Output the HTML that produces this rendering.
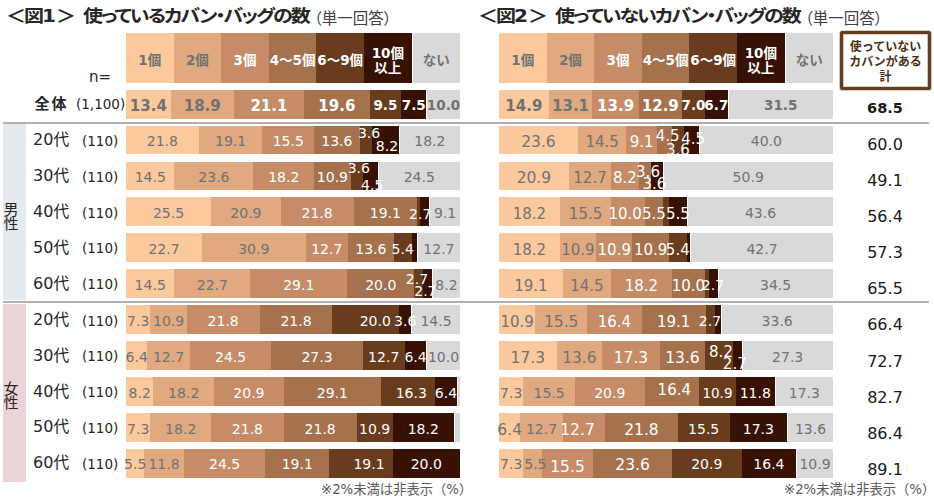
<!DOCTYPE html>
<html lang="ja"><head><meta charset="utf-8">
<title>使っている／使っていないカバン・バッグの数</title>
<style>
html,body{margin:0;padding:0;background:#fff;}
body{width:934px;height:503px;position:relative;overflow:hidden;font-family:"DejaVu Sans","Noto Sans CJK JP",sans-serif;}
.seg{position:absolute;}
.hl{position:absolute;display:flex;align-items:center;justify-content:center;font-family:"DejaVu Sans","Noto Sans CJK JP",sans-serif;font-weight:bold;font-size:13.5px;line-height:16px;text-align:center;white-space:nowrap;}
.hl span{display:block;margin-top:4px;}
.hl.two span{margin-top:6px;line-height:15.5px;}
.v,.vb{position:absolute;transform:translate(-50%,-50%);white-space:nowrap;line-height:1;}
.vb{font-weight:bold;}
.t{position:absolute;white-space:nowrap;color:#262626;}
.title{font-family:"Noto Sans CJK JP",sans-serif;font-weight:bold;font-size:20px;line-height:24px;color:#262626;font-feature-settings:"palt";letter-spacing:-2px;transform:scaleY(0.88);transform-origin:50% 60%;}
.title.sm{transform:none;}
.title .d{font-family:"DejaVu Sans",sans-serif;letter-spacing:0;}
.title small{font-weight:normal;font-size:15.5px;color:#404040;letter-spacing:0;}
.rl{position:absolute;font-size:16px;line-height:16px;color:#262626;white-space:nowrap;}
.n{position:absolute;font-size:13.5px;line-height:14px;color:#262626;white-space:nowrap;}
.tot{position:absolute;transform:translate(-50%,-50%);font-size:16px;line-height:1;color:#1a1a1a;}
.hline{position:absolute;height:2px;background:#B0B0B0;}
.side{position:absolute;left:3px;width:16px;text-align:center;font-family:"Noto Sans CJK JP",sans-serif;font-size:15px;line-height:13.5px;color:#262626;}
.foot{position:absolute;font-size:13.3px;line-height:14px;color:#595959;white-space:nowrap;font-family:"DejaVu Sans","Noto Sans CJK JP",sans-serif;}
.box{position:absolute;left:840px;top:30.5px;width:85px;height:53px;border:3px solid #603D1C;border-radius:2px;box-shadow:0 0 0 0.6px rgba(110,70,35,0.5), inset 0 0 0 0.6px rgba(110,70,35,0.5);}
.boxt{position:absolute;left:843px;top:38.3px;width:85px;text-align:center;font-family:"Noto Sans CJK JP",sans-serif;font-weight:bold;font-size:12px;line-height:15px;color:#4A2E14;}
</style></head><body>
<div class="t title" style="left:6px;top:3px">＜図<span class="d">1</span>＞</div>
<div class="t title" style="left:83px;top:3px">使っているカバン・バッグの数</div>
<div class="t title sm" style="left:314px;top:3.5px"><small>（単一回答）</small></div>
<div class="t title" style="left:478px;top:3px">＜図<span class="d">2</span>＞</div>
<div class="t title" style="left:555px;top:3px">使っていないカバン・バッグの数</div>
<div class="t title sm" style="left:805px;top:3.5px"><small>（単一回答）</small></div>
<div class="seg" style="left:3px;top:124px;width:23px;height:176px;background:#E3E9ED"></div>
<div class="seg" style="left:3px;top:304px;width:23px;height:178px;background:#EBD3D8"></div>
<div class="side" style="top:202px">男<br>性</div>
<div class="side" style="top:381px">女<br>性</div>
<div class="hline" style="left:3px;top:122px;width:926px"></div>
<div class="hline" style="left:3px;top:301px;width:926px"></div>
<div class="n" style="left:89px;top:70px;font-size:15px">n=</div>
<div class="rl" style="left:34.5px;top:95px;font-size:15px;letter-spacing:2px;font-weight:bold;font-family:'Noto Sans CJK JP',sans-serif">全体</div>
<div class="n" style="left:76px;top:97px">(1,100)</div>
<div class="rl" style="left:33px;top:132px">20代</div>
<div class="n" style="left:82px;top:133.7px">(110)</div>
<div class="rl" style="left:33px;top:167.9px">30代</div>
<div class="n" style="left:82px;top:169.6px">(110)</div>
<div class="rl" style="left:33px;top:203.8px">40代</div>
<div class="n" style="left:82px;top:205.5px">(110)</div>
<div class="rl" style="left:33px;top:239.7px">50代</div>
<div class="n" style="left:82px;top:241.4px">(110)</div>
<div class="rl" style="left:33px;top:275.6px">60代</div>
<div class="n" style="left:82px;top:277.3px">(110)</div>
<div class="rl" style="left:33px;top:311.9px">20代</div>
<div class="n" style="left:82px;top:313.6px">(110)</div>
<div class="rl" style="left:33px;top:347.7px">30代</div>
<div class="n" style="left:82px;top:349.4px">(110)</div>
<div class="rl" style="left:33px;top:383.5px">40代</div>
<div class="n" style="left:82px;top:385.2px">(110)</div>
<div class="rl" style="left:33px;top:419.3px">50代</div>
<div class="n" style="left:82px;top:421px">(110)</div>
<div class="rl" style="left:33px;top:455.1px">60代</div>
<div class="n" style="left:82px;top:456.8px">(110)</div>
<div class="seg" style="left:126px;top:33px;width:48px;height:50.2px;background:#FCC99D"></div>
<div class="hl" style="left:126px;top:33px;width:47.6px;height:50.2px;color:#717171"><span>1個</span></div>
<div class="seg" style="left:173.6px;top:33px;width:48px;height:50.2px;background:#E1A97F"></div>
<div class="hl" style="left:173.6px;top:33px;width:47.6px;height:50.2px;color:#717171"><span>2個</span></div>
<div class="seg" style="left:221.2px;top:33px;width:48px;height:50.2px;background:#C58C67"></div>
<div class="hl" style="left:221.2px;top:33px;width:47.6px;height:50.2px;color:#FFFFFF"><span>3個</span></div>
<div class="seg" style="left:268.8px;top:33px;width:48px;height:50.2px;background:#A5724D"></div>
<div class="hl" style="left:268.8px;top:33px;width:47.6px;height:50.2px;color:#FFFFFF"><span>4～5個</span></div>
<div class="seg" style="left:316.4px;top:33px;width:48px;height:50.2px;background:#683C1C"></div>
<div class="hl" style="left:316.4px;top:33px;width:47.6px;height:50.2px;color:#FFFFFF"><span>6～9個</span></div>
<div class="seg" style="left:364px;top:33px;width:47.6px;height:50.2px;background:#381105"></div>
<div class="hl two" style="left:364px;top:33px;width:47.6px;height:50.2px;color:#FFFFFF"><span>10個<br>以上</span></div>
<div class="seg" style="left:412.8px;top:33px;width:46.8px;height:50.2px;background:#D9D9D9"></div>
<div class="hl" style="left:412.8px;top:33px;width:46.8px;height:50.2px;color:#717171"><span>ない</span></div>
<div class="seg" style="left:126px;top:90px;width:45.1px;height:29px;background:#FCC99D"></div>
<div class="seg" style="left:170.7px;top:90px;width:63.45px;height:29px;background:#E1A97F"></div>
<div class="seg" style="left:233.75px;top:90px;width:70.79px;height:29px;background:#C58C67"></div>
<div class="seg" style="left:304.14px;top:90px;width:65.79px;height:29px;background:#A5724D"></div>
<div class="seg" style="left:369.53px;top:90px;width:32.09px;height:29px;background:#683C1C"></div>
<div class="seg" style="left:401.22px;top:90px;width:25.02px;height:29px;background:#381105"></div>
<div class="seg" style="left:427.44px;top:90px;width:32.16px;height:29px;background:#D9D9D9"></div>
<div class="vb" style="left:148.35px;top:106px;color:#717171;font-size:15px">13.4</div>
<div class="vb" style="left:202.23px;top:106px;color:#717171;font-size:15px">18.9</div>
<div class="vb" style="left:268.95px;top:106px;color:#FFFFFF;font-size:15px">21.1</div>
<div class="vb" style="left:336.84px;top:106px;color:#FFFFFF;font-size:15px">19.6</div>
<div class="vb" style="left:385.37px;top:106px;color:#FFFFFF;font-size:13.5px">9.5</div>
<div class="vb" style="left:413.73px;top:106px;color:#FFFFFF;font-size:13.5px">7.5</div>
<div class="vb" style="left:443.52px;top:106px;color:#717171;font-size:13.5px">10.0</div>
<div class="seg" style="left:126px;top:125.6px;width:73.12px;height:28.8px;background:#FCC99D"></div>
<div class="seg" style="left:198.72px;top:125.6px;width:64.12px;height:28.8px;background:#E1A97F"></div>
<div class="seg" style="left:262.44px;top:125.6px;width:52.11px;height:28.8px;background:#C58C67"></div>
<div class="seg" style="left:314.15px;top:125.6px;width:45.77px;height:28.8px;background:#A5724D"></div>
<div class="seg" style="left:359.52px;top:125.6px;width:12.41px;height:28.8px;background:#683C1C"></div>
<div class="seg" style="left:371.53px;top:125.6px;width:27.36px;height:28.8px;background:#381105"></div>
<div class="seg" style="left:400.08px;top:125.6px;width:59.52px;height:28.8px;background:#D9D9D9"></div>
<div class="v" style="left:162.36px;top:141px;color:#717171;font-size:14px">21.8</div>
<div class="v" style="left:230.58px;top:141px;color:#717171;font-size:14px">19.1</div>
<div class="v" style="left:288.3px;top:141px;color:#FFFFFF;font-size:14px">15.5</div>
<div class="v" style="left:336.84px;top:141px;color:#FFFFFF;font-size:14px">13.6</div>
<div class="v" style="left:369.1px;top:133px;color:#FFFFFF;font-size:14px">3.6</div>
<div class="v" style="left:387px;top:146px;color:#FFFFFF;font-size:14px">8.2</div>
<div class="v" style="left:429.84px;top:141px;color:#717171;font-size:14px">18.2</div>
<div class="seg" style="left:126px;top:161.5px;width:48.87px;height:28.8px;background:#FCC99D"></div>
<div class="seg" style="left:174.47px;top:161.5px;width:79.29px;height:28.8px;background:#E1A97F"></div>
<div class="seg" style="left:253.36px;top:161.5px;width:61.24px;height:28.8px;background:#C58C67"></div>
<div class="seg" style="left:314.19px;top:161.5px;width:36.84px;height:28.8px;background:#A5724D"></div>
<div class="seg" style="left:350.63px;top:161.5px;width:12.43px;height:28.8px;background:#683C1C"></div>
<div class="seg" style="left:362.66px;top:161.5px;width:15.04px;height:28.8px;background:#381105"></div>
<div class="seg" style="left:378.9px;top:161.5px;width:80.7px;height:28.8px;background:#D9D9D9"></div>
<div class="v" style="left:150.23px;top:177px;color:#717171;font-size:14px">14.5</div>
<div class="v" style="left:213.91px;top:177px;color:#717171;font-size:14px">23.6</div>
<div class="v" style="left:283.77px;top:177px;color:#FFFFFF;font-size:14px">18.2</div>
<div class="v" style="left:332.41px;top:177px;color:#FFFFFF;font-size:14px">10.9</div>
<div class="v" style="left:358.8px;top:168px;color:#FFFFFF;font-size:14px">3.6</div>
<div class="v" style="left:372.2px;top:185px;color:#FFFFFF;font-size:14px">4.5</div>
<div class="v" style="left:419.25px;top:177px;color:#717171;font-size:14px">24.5</div>
<div class="seg" style="left:126px;top:197.4px;width:85.47px;height:28.8px;background:#FCC99D"></div>
<div class="seg" style="left:211.07px;top:197.4px;width:70.12px;height:28.8px;background:#E1A97F"></div>
<div class="seg" style="left:280.79px;top:197.4px;width:73.12px;height:28.8px;background:#C58C67"></div>
<div class="seg" style="left:353.52px;top:197.4px;width:64.12px;height:28.8px;background:#A5724D"></div>
<div class="seg" style="left:417.23px;top:197.4px;width:3.4px;height:28.8px;background:#683C1C"></div>
<div class="seg" style="left:420.24px;top:197.4px;width:9.01px;height:28.8px;background:#381105"></div>
<div class="seg" style="left:430.44px;top:197.4px;width:29.16px;height:28.8px;background:#D9D9D9"></div>
<div class="v" style="left:168.53px;top:213px;color:#717171;font-size:14px">25.5</div>
<div class="v" style="left:245.93px;top:213px;color:#717171;font-size:14px">20.9</div>
<div class="v" style="left:317.15px;top:213px;color:#FFFFFF;font-size:14px">21.8</div>
<div class="v" style="left:385.37px;top:213px;color:#FFFFFF;font-size:14px">19.1</div>
<div class="v" style="left:420.2px;top:214px;color:#FFFFFF;font-size:14px">2.7</div>
<div class="v" style="left:445.02px;top:213px;color:#717171;font-size:14px">9.1</div>
<div class="seg" style="left:126px;top:233.3px;width:76.43px;height:28.8px;background:#FCC99D"></div>
<div class="seg" style="left:202.03px;top:233.3px;width:103.9px;height:28.8px;background:#E1A97F"></div>
<div class="seg" style="left:305.53px;top:233.3px;width:42.94px;height:28.8px;background:#C58C67"></div>
<div class="seg" style="left:348.07px;top:233.3px;width:45.95px;height:28.8px;background:#A5724D"></div>
<div class="seg" style="left:393.62px;top:233.3px;width:18.49px;height:28.8px;background:#683C1C"></div>
<div class="seg" style="left:411.7px;top:233.3px;width:5.36px;height:28.8px;background:#381105"></div>
<div class="seg" style="left:418.26px;top:233.3px;width:41.34px;height:28.8px;background:#D9D9D9"></div>
<div class="v" style="left:164.02px;top:249px;color:#717171;font-size:14px">22.7</div>
<div class="v" style="left:253.78px;top:249px;color:#717171;font-size:14px">30.9</div>
<div class="v" style="left:326.8px;top:249px;color:#FFFFFF;font-size:14px">12.7</div>
<div class="v" style="left:370.84px;top:249px;color:#FFFFFF;font-size:14px">13.6</div>
<div class="v" style="left:402.66px;top:249px;color:#FFFFFF;font-size:14px">5.4</div>
<div class="v" style="left:438.93px;top:249px;color:#717171;font-size:14px">12.7</div>
<div class="seg" style="left:126px;top:269.2px;width:48.82px;height:28.8px;background:#FCC99D"></div>
<div class="seg" style="left:174.42px;top:269.2px;width:76.2px;height:28.8px;background:#E1A97F"></div>
<div class="seg" style="left:250.22px;top:269.2px;width:97.57px;height:28.8px;background:#C58C67"></div>
<div class="seg" style="left:347.4px;top:269.2px;width:67.19px;height:28.8px;background:#A5724D"></div>
<div class="seg" style="left:414.18px;top:269.2px;width:9.42px;height:28.8px;background:#683C1C"></div>
<div class="seg" style="left:423.2px;top:269.2px;width:9.02px;height:28.8px;background:#381105"></div>
<div class="seg" style="left:433.42px;top:269.2px;width:26.18px;height:28.8px;background:#D9D9D9"></div>
<div class="v" style="left:150.21px;top:285px;color:#717171;font-size:14px">14.5</div>
<div class="v" style="left:212.32px;top:285px;color:#717171;font-size:14px">22.7</div>
<div class="v" style="left:298.81px;top:285px;color:#FFFFFF;font-size:14px">29.1</div>
<div class="v" style="left:380.79px;top:285px;color:#FFFFFF;font-size:14px">20.0</div>
<div class="v" style="left:417px;top:279px;color:#FFFFFF;font-size:14px">2.7</div>
<div class="v" style="left:425.4px;top:291px;color:#FFFFFF;font-size:14px">2.7</div>
<div class="v" style="left:446.51px;top:285px;color:#717171;font-size:14px">8.2</div>
<div class="seg" style="left:126px;top:305.4px;width:24.78px;height:29px;background:#FCC99D"></div>
<div class="seg" style="left:150.38px;top:305.4px;width:36.8px;height:29px;background:#E1A97F"></div>
<div class="seg" style="left:186.78px;top:305.4px;width:73.2px;height:29px;background:#C58C67"></div>
<div class="seg" style="left:259.57px;top:305.4px;width:73.2px;height:29px;background:#A5724D"></div>
<div class="seg" style="left:332.37px;top:305.4px;width:67.19px;height:29px;background:#683C1C"></div>
<div class="seg" style="left:399.16px;top:305.4px;width:12.02px;height:29px;background:#381105"></div>
<div class="seg" style="left:412.38px;top:305.4px;width:47.22px;height:29px;background:#D9D9D9"></div>
<div class="v" style="left:138.19px;top:321px;color:#717171;font-size:14px">7.3</div>
<div class="v" style="left:168.58px;top:321px;color:#717171;font-size:14px">10.9</div>
<div class="v" style="left:223.17px;top:321px;color:#FFFFFF;font-size:14px">21.8</div>
<div class="v" style="left:295.97px;top:321px;color:#FFFFFF;font-size:14px">21.8</div>
<div class="v" style="left:375.3px;top:321px;color:#FFFFFF;font-size:14px">20.0</div>
<div class="v" style="left:405.17px;top:321px;color:#FFFFFF;font-size:14px">3.6</div>
<div class="v" style="left:435.99px;top:321px;color:#717171;font-size:14px">14.5</div>
<div class="seg" style="left:126px;top:341.2px;width:21.75px;height:29px;background:#FCC99D"></div>
<div class="seg" style="left:147.35px;top:341.2px;width:42.77px;height:29px;background:#E1A97F"></div>
<div class="seg" style="left:189.72px;top:341.2px;width:82.13px;height:29px;background:#C58C67"></div>
<div class="seg" style="left:271.45px;top:341.2px;width:91.47px;height:29px;background:#A5724D"></div>
<div class="seg" style="left:362.52px;top:341.2px;width:42.77px;height:29px;background:#683C1C"></div>
<div class="seg" style="left:404.89px;top:341.2px;width:21.35px;height:29px;background:#381105"></div>
<div class="seg" style="left:427.44px;top:341.2px;width:32.16px;height:29px;background:#D9D9D9"></div>
<div class="v" style="left:136.68px;top:357px;color:#717171;font-size:14px">6.4</div>
<div class="v" style="left:168.53px;top:357px;color:#717171;font-size:14px">12.7</div>
<div class="v" style="left:230.58px;top:357px;color:#FFFFFF;font-size:14px">24.5</div>
<div class="v" style="left:316.99px;top:357px;color:#FFFFFF;font-size:14px">27.3</div>
<div class="v" style="left:383.71px;top:357px;color:#FFFFFF;font-size:14px">12.7</div>
<div class="v" style="left:415.56px;top:357px;color:#FFFFFF;font-size:14px">6.4</div>
<div class="v" style="left:443.52px;top:357px;color:#717171;font-size:14px">10.0</div>
<div class="seg" style="left:126px;top:377px;width:27.76px;height:29px;background:#FCC99D"></div>
<div class="seg" style="left:153.36px;top:377px;width:61.12px;height:29px;background:#E1A97F"></div>
<div class="seg" style="left:214.07px;top:377px;width:70.12px;height:29px;background:#C58C67"></div>
<div class="seg" style="left:283.79px;top:377px;width:97.48px;height:29px;background:#A5724D"></div>
<div class="seg" style="left:380.87px;top:377px;width:54.78px;height:29px;background:#683C1C"></div>
<div class="seg" style="left:435.25px;top:377px;width:21.35px;height:29px;background:#381105"></div>
<div class="seg" style="left:457.8px;top:377px;width:1.8px;height:29px;background:#D9D9D9"></div>
<div class="v" style="left:139.68px;top:393px;color:#717171;font-size:14px">8.2</div>
<div class="v" style="left:183.71px;top:393px;color:#717171;font-size:14px">18.2</div>
<div class="v" style="left:248.93px;top:393px;color:#FFFFFF;font-size:14px">20.9</div>
<div class="v" style="left:332.33px;top:393px;color:#FFFFFF;font-size:14px">29.1</div>
<div class="v" style="left:411.3px;top:393px;color:#FFFFFF;font-size:14px">16.3</div>
<div class="v" style="left:445.92px;top:393px;color:#FFFFFF;font-size:14px">6.4</div>
<div class="seg" style="left:126px;top:412.8px;width:24.75px;height:29px;background:#FCC99D"></div>
<div class="seg" style="left:150.35px;top:412.8px;width:61.12px;height:29px;background:#E1A97F"></div>
<div class="seg" style="left:211.07px;top:412.8px;width:73.12px;height:29px;background:#C58C67"></div>
<div class="seg" style="left:283.79px;top:412.8px;width:73.12px;height:29px;background:#A5724D"></div>
<div class="seg" style="left:356.52px;top:412.8px;width:36.76px;height:29px;background:#683C1C"></div>
<div class="seg" style="left:392.88px;top:412.8px;width:60.72px;height:29px;background:#381105"></div>
<div class="seg" style="left:454.8px;top:412.8px;width:4.8px;height:29px;background:#D9D9D9"></div>
<div class="v" style="left:138.18px;top:429px;color:#717171;font-size:14px">7.3</div>
<div class="v" style="left:180.71px;top:429px;color:#717171;font-size:14px">18.2</div>
<div class="v" style="left:247.43px;top:429px;color:#FFFFFF;font-size:14px">21.8</div>
<div class="v" style="left:320.16px;top:429px;color:#FFFFFF;font-size:14px">21.8</div>
<div class="v" style="left:374.7px;top:429px;color:#FFFFFF;font-size:14px">10.9</div>
<div class="v" style="left:423.24px;top:429px;color:#FFFFFF;font-size:14px">18.2</div>
<div class="seg" style="left:126px;top:448.6px;width:18.75px;height:29px;background:#FCC99D"></div>
<div class="seg" style="left:144.35px;top:448.6px;width:39.76px;height:29px;background:#E1A97F"></div>
<div class="seg" style="left:183.71px;top:448.6px;width:82.13px;height:29px;background:#C58C67"></div>
<div class="seg" style="left:265.44px;top:448.6px;width:64.12px;height:29px;background:#A5724D"></div>
<div class="seg" style="left:329.16px;top:448.6px;width:64.12px;height:29px;background:#683C1C"></div>
<div class="seg" style="left:392.88px;top:448.6px;width:66.72px;height:29px;background:#381105"></div>
<div class="v" style="left:135.17px;top:464px;color:#717171;font-size:14px">5.5</div>
<div class="v" style="left:164.03px;top:464px;color:#717171;font-size:14px">11.8</div>
<div class="v" style="left:224.58px;top:464px;color:#FFFFFF;font-size:14px">24.5</div>
<div class="v" style="left:297.3px;top:464px;color:#FFFFFF;font-size:14px">19.1</div>
<div class="v" style="left:369px;top:464px;color:#FFFFFF;font-size:14px">19.1</div>
<div class="v" style="left:426.24px;top:464px;color:#FFFFFF;font-size:14px">20.0</div>
<div class="seg" style="left:499px;top:33px;width:48px;height:50.2px;background:#FCC99D"></div>
<div class="hl" style="left:499px;top:33px;width:47.6px;height:50.2px;color:#717171"><span>1個</span></div>
<div class="seg" style="left:546.6px;top:33px;width:48px;height:50.2px;background:#E1A97F"></div>
<div class="hl" style="left:546.6px;top:33px;width:47.6px;height:50.2px;color:#717171"><span>2個</span></div>
<div class="seg" style="left:594.2px;top:33px;width:48px;height:50.2px;background:#C58C67"></div>
<div class="hl" style="left:594.2px;top:33px;width:47.6px;height:50.2px;color:#FFFFFF"><span>3個</span></div>
<div class="seg" style="left:641.8px;top:33px;width:48px;height:50.2px;background:#A5724D"></div>
<div class="hl" style="left:641.8px;top:33px;width:47.6px;height:50.2px;color:#FFFFFF"><span>4～5個</span></div>
<div class="seg" style="left:689.4px;top:33px;width:48px;height:50.2px;background:#683C1C"></div>
<div class="hl" style="left:689.4px;top:33px;width:47.6px;height:50.2px;color:#FFFFFF"><span>6～9個</span></div>
<div class="seg" style="left:737px;top:33px;width:47.6px;height:50.2px;background:#381105"></div>
<div class="hl two" style="left:737px;top:33px;width:47.6px;height:50.2px;color:#FFFFFF"><span>10個<br>以上</span></div>
<div class="seg" style="left:785.8px;top:33px;width:46.8px;height:50.2px;background:#D9D9D9"></div>
<div class="hl" style="left:785.8px;top:33px;width:46.8px;height:50.2px;color:#717171"><span>ない</span></div>
<div class="seg" style="left:499px;top:90px;width:50.11px;height:29px;background:#FCC99D"></div>
<div class="seg" style="left:548.71px;top:90px;width:44.1px;height:29px;background:#E1A97F"></div>
<div class="seg" style="left:592.41px;top:90px;width:46.77px;height:29px;background:#C58C67"></div>
<div class="seg" style="left:638.78px;top:90px;width:43.43px;height:29px;background:#A5724D"></div>
<div class="seg" style="left:681.81px;top:90px;width:23.75px;height:29px;background:#683C1C"></div>
<div class="seg" style="left:705.16px;top:90px;width:22.35px;height:29px;background:#381105"></div>
<div class="seg" style="left:728.72px;top:90px;width:103.88px;height:29px;background:#D9D9D9"></div>
<div class="vb" style="left:523.85px;top:106px;color:#717171;font-size:15px">14.9</div>
<div class="vb" style="left:570.56px;top:106px;color:#717171;font-size:15px">13.1</div>
<div class="vb" style="left:615.59px;top:106px;color:#FFFFFF;font-size:15px">13.9</div>
<div class="vb" style="left:660.3px;top:106px;color:#FFFFFF;font-size:15px">12.9</div>
<div class="vb" style="left:693.49px;top:106px;color:#FFFFFF;font-size:13.5px">7.0</div>
<div class="vb" style="left:716.34px;top:106px;color:#FFFFFF;font-size:13.5px">6.7</div>
<div class="vb" style="left:780.66px;top:106px;color:#717171;font-size:13.5px">31.5</div>
<div class="seg" style="left:499px;top:125.6px;width:79.29px;height:28.8px;background:#FCC99D"></div>
<div class="seg" style="left:577.89px;top:125.6px;width:48.87px;height:28.8px;background:#E1A97F"></div>
<div class="seg" style="left:626.36px;top:125.6px;width:30.82px;height:28.8px;background:#C58C67"></div>
<div class="seg" style="left:656.77px;top:125.6px;width:15.44px;height:28.8px;background:#A5724D"></div>
<div class="seg" style="left:671.82px;top:125.6px;width:12.43px;height:28.8px;background:#683C1C"></div>
<div class="seg" style="left:683.85px;top:125.6px;width:15.04px;height:28.8px;background:#381105"></div>
<div class="seg" style="left:700.09px;top:125.6px;width:132.51px;height:28.8px;background:#D9D9D9"></div>
<div class="v" style="left:538.44px;top:143px;color:#717171;font-size:15.5px">23.6</div>
<div class="v" style="left:602.12px;top:142px;color:#717171;font-size:15px">14.5</div>
<div class="v" style="left:641.57px;top:142px;color:#FFFFFF;font-size:15px">9.1</div>
<div class="v" style="left:667.7px;top:136px;color:#FFFFFF;font-size:15px">4.5</div>
<div class="v" style="left:677.9px;top:150px;color:#FFFFFF;font-size:15px">3.6</div>
<div class="v" style="left:693.1px;top:139px;color:#FFFFFF;font-size:15px">4.5</div>
<div class="v" style="left:766.35px;top:141px;color:#717171;font-size:14px">40.0</div>
<div class="seg" style="left:499px;top:161.5px;width:70.19px;height:28.8px;background:#FCC99D"></div>
<div class="seg" style="left:568.79px;top:161.5px;width:42.81px;height:28.8px;background:#E1A97F"></div>
<div class="seg" style="left:611.2px;top:161.5px;width:27.78px;height:28.8px;background:#C58C67"></div>
<div class="seg" style="left:638.58px;top:161.5px;width:12.42px;height:28.8px;background:#A5724D"></div>
<div class="seg" style="left:650.61px;top:161.5px;width:12.02px;height:28.8px;background:#381105"></div>
<div class="seg" style="left:663.83px;top:161.5px;width:168.77px;height:28.8px;background:#D9D9D9"></div>
<div class="v" style="left:533.9px;top:179px;color:#717171;font-size:15.5px">20.9</div>
<div class="v" style="left:590px;top:178px;color:#717171;font-size:15px">12.7</div>
<div class="v" style="left:624.89px;top:178px;color:#FFFFFF;font-size:15px">8.2</div>
<div class="v" style="left:648px;top:172px;color:#FFFFFF;font-size:15px">3.6</div>
<div class="v" style="left:654.4px;top:184px;color:#FFFFFF;font-size:15px">3.6</div>
<div class="v" style="left:748.21px;top:177px;color:#717171;font-size:14px">50.9</div>
<div class="seg" style="left:499px;top:197.4px;width:61.12px;height:28.8px;background:#FCC99D"></div>
<div class="seg" style="left:559.72px;top:197.4px;width:52.11px;height:28.8px;background:#E1A97F"></div>
<div class="seg" style="left:611.42px;top:197.4px;width:33.76px;height:28.8px;background:#C58C67"></div>
<div class="seg" style="left:644.78px;top:197.4px;width:18.75px;height:28.8px;background:#A5724D"></div>
<div class="seg" style="left:663.13px;top:197.4px;width:6.07px;height:28.8px;background:#683C1C"></div>
<div class="seg" style="left:668.8px;top:197.4px;width:18.35px;height:28.8px;background:#381105"></div>
<div class="seg" style="left:688.35px;top:197.4px;width:144.25px;height:28.8px;background:#D9D9D9"></div>
<div class="v" style="left:529.36px;top:214px;color:#717171;font-size:15px">18.2</div>
<div class="v" style="left:585.57px;top:214px;color:#717171;font-size:15px">15.5</div>
<div class="v" style="left:625.1px;top:214px;color:#FFFFFF;font-size:15px">10.0</div>
<div class="v" style="left:653.96px;top:214px;color:#FFFFFF;font-size:15px">5.5</div>
<div class="v" style="left:677.98px;top:214px;color:#FFFFFF;font-size:15px">5.5</div>
<div class="v" style="left:760.48px;top:213px;color:#717171;font-size:14px">43.6</div>
<div class="seg" style="left:499px;top:233.3px;width:61.12px;height:28.8px;background:#FCC99D"></div>
<div class="seg" style="left:559.72px;top:233.3px;width:36.76px;height:28.8px;background:#E1A97F"></div>
<div class="seg" style="left:596.08px;top:233.3px;width:36.76px;height:28.8px;background:#C58C67"></div>
<div class="seg" style="left:632.44px;top:233.3px;width:36.76px;height:28.8px;background:#A5724D"></div>
<div class="seg" style="left:668.8px;top:233.3px;width:18.41px;height:28.8px;background:#683C1C"></div>
<div class="seg" style="left:686.82px;top:233.3px;width:3.34px;height:28.8px;background:#381105"></div>
<div class="seg" style="left:691.35px;top:233.3px;width:141.25px;height:28.8px;background:#D9D9D9"></div>
<div class="v" style="left:529.36px;top:250px;color:#717171;font-size:15px">18.2</div>
<div class="v" style="left:577.9px;top:250px;color:#717171;font-size:15px">10.9</div>
<div class="v" style="left:614.26px;top:250px;color:#FFFFFF;font-size:15px">10.9</div>
<div class="v" style="left:650.62px;top:250px;color:#FFFFFF;font-size:15px">10.9</div>
<div class="v" style="left:677.81px;top:250px;color:#FFFFFF;font-size:15px">5.4</div>
<div class="v" style="left:761.98px;top:249px;color:#717171;font-size:14px">42.7</div>
<div class="seg" style="left:499px;top:269.2px;width:64.12px;height:28.8px;background:#FCC99D"></div>
<div class="seg" style="left:562.72px;top:269.2px;width:48.77px;height:28.8px;background:#E1A97F"></div>
<div class="seg" style="left:611.09px;top:269.2px;width:61.12px;height:28.8px;background:#C58C67"></div>
<div class="seg" style="left:671.8px;top:269.2px;width:33.76px;height:28.8px;background:#A5724D"></div>
<div class="seg" style="left:705.16px;top:269.2px;width:3.74px;height:28.8px;background:#683C1C"></div>
<div class="seg" style="left:708.5px;top:269.2px;width:9.01px;height:28.8px;background:#381105"></div>
<div class="seg" style="left:718.71px;top:269.2px;width:113.89px;height:28.8px;background:#D9D9D9"></div>
<div class="v" style="left:530.86px;top:286px;color:#717171;font-size:15px">19.1</div>
<div class="v" style="left:586.9px;top:286px;color:#717171;font-size:15px">14.5</div>
<div class="v" style="left:641.45px;top:286px;color:#FFFFFF;font-size:15px">18.2</div>
<div class="v" style="left:688.48px;top:286px;color:#FFFFFF;font-size:15px">10.0</div>
<div class="v" style="left:713px;top:285px;color:#FFFFFF;font-size:14px">2.7</div>
<div class="v" style="left:775.65px;top:285px;color:#717171;font-size:14px">34.5</div>
<div class="seg" style="left:499px;top:305.4px;width:36.76px;height:29px;background:#FCC99D"></div>
<div class="seg" style="left:535.36px;top:305.4px;width:52.11px;height:29px;background:#E1A97F"></div>
<div class="seg" style="left:587.07px;top:305.4px;width:55.11px;height:29px;background:#C58C67"></div>
<div class="seg" style="left:641.78px;top:305.4px;width:64.12px;height:29px;background:#A5724D"></div>
<div class="seg" style="left:705.5px;top:305.4px;width:9.41px;height:29px;background:#683C1C"></div>
<div class="seg" style="left:714.51px;top:305.4px;width:6px;height:29px;background:#381105"></div>
<div class="seg" style="left:721.71px;top:305.4px;width:110.89px;height:29px;background:#D9D9D9"></div>
<div class="v" style="left:517.18px;top:322px;color:#717171;font-size:15px">10.9</div>
<div class="v" style="left:561.22px;top:323px;color:#717171;font-size:15.5px">15.5</div>
<div class="v" style="left:614.43px;top:322px;color:#FFFFFF;font-size:15px">16.4</div>
<div class="v" style="left:673.64px;top:322px;color:#FFFFFF;font-size:15px">19.1</div>
<div class="v" style="left:710px;top:321px;color:#FFFFFF;font-size:14px">2.7</div>
<div class="v" style="left:777.16px;top:321px;color:#717171;font-size:14px">33.6</div>
<div class="seg" style="left:499px;top:341.2px;width:58.11px;height:29px;background:#FCC99D"></div>
<div class="seg" style="left:556.71px;top:341.2px;width:45.77px;height:29px;background:#E1A97F"></div>
<div class="seg" style="left:602.08px;top:341.2px;width:58.11px;height:29px;background:#C58C67"></div>
<div class="seg" style="left:659.8px;top:341.2px;width:45.77px;height:29px;background:#A5724D"></div>
<div class="seg" style="left:705.16px;top:341.2px;width:27.76px;height:29px;background:#683C1C"></div>
<div class="seg" style="left:732.52px;top:341.2px;width:9.01px;height:29px;background:#381105"></div>
<div class="seg" style="left:742.73px;top:341.2px;width:89.87px;height:29px;background:#D9D9D9"></div>
<div class="v" style="left:527.86px;top:359px;color:#717171;font-size:15.5px">17.3</div>
<div class="v" style="left:579.4px;top:359px;color:#717171;font-size:15.5px">13.6</div>
<div class="v" style="left:630.94px;top:359px;color:#FFFFFF;font-size:15.5px">17.3</div>
<div class="v" style="left:682.48px;top:359px;color:#FFFFFF;font-size:15.5px">13.6</div>
<div class="v" style="left:721px;top:352px;color:#FFFFFF;font-size:15px">8.2</div>
<div class="v" style="left:734.8px;top:364px;color:#FFFFFF;font-size:15px">2.7</div>
<div class="v" style="left:787.66px;top:357px;color:#717171;font-size:14px">27.3</div>
<div class="seg" style="left:499px;top:377px;width:24.73px;height:29px;background:#FCC99D"></div>
<div class="seg" style="left:523.33px;top:377px;width:52.06px;height:29px;background:#E1A97F"></div>
<div class="seg" style="left:574.98px;top:377px;width:70.05px;height:29px;background:#C58C67"></div>
<div class="seg" style="left:644.64px;top:377px;width:55.06px;height:29px;background:#A5724D"></div>
<div class="seg" style="left:699.29px;top:377px;width:36.73px;height:29px;background:#683C1C"></div>
<div class="seg" style="left:735.62px;top:377px;width:39.33px;height:29px;background:#381105"></div>
<div class="seg" style="left:776.14px;top:377px;width:56.46px;height:29px;background:#D9D9D9"></div>
<div class="v" style="left:511.16px;top:393px;color:#717171;font-size:14px">7.3</div>
<div class="v" style="left:549.16px;top:393px;color:#717171;font-size:14px">15.5</div>
<div class="v" style="left:609.81px;top:393px;color:#FFFFFF;font-size:14px">20.9</div>
<div class="v" style="left:674.3px;top:390px;color:#FFFFFF;font-size:15px">16.4</div>
<div class="v" style="left:717.46px;top:394px;color:#FFFFFF;font-size:13.5px">10.9</div>
<div class="v" style="left:755.28px;top:393px;color:#FFFFFF;font-size:14px">11.8</div>
<div class="v" style="left:804.37px;top:393px;color:#717171;font-size:14px">17.3</div>
<div class="seg" style="left:499px;top:412.8px;width:21.75px;height:29px;background:#FCC99D"></div>
<div class="seg" style="left:520.35px;top:412.8px;width:42.77px;height:29px;background:#E1A97F"></div>
<div class="seg" style="left:562.72px;top:412.8px;width:42.77px;height:29px;background:#C58C67"></div>
<div class="seg" style="left:605.08px;top:412.8px;width:73.12px;height:29px;background:#A5724D"></div>
<div class="seg" style="left:677.81px;top:412.8px;width:52.11px;height:29px;background:#683C1C"></div>
<div class="seg" style="left:729.52px;top:412.8px;width:57.71px;height:29px;background:#381105"></div>
<div class="seg" style="left:788.43px;top:412.8px;width:44.17px;height:29px;background:#D9D9D9"></div>
<div class="v" style="left:509.68px;top:431px;color:#717171;font-size:15.5px">6.4</div>
<div class="v" style="left:541.53px;top:429px;color:#717171;font-size:14px">12.7</div>
<div class="v" style="left:577.5px;top:431px;color:#FFFFFF;font-size:15.5px">12.7</div>
<div class="v" style="left:641.45px;top:431px;color:#FFFFFF;font-size:15.5px">21.8</div>
<div class="v" style="left:703.66px;top:429px;color:#FFFFFF;font-size:14px">15.5</div>
<div class="v" style="left:758.37px;top:429px;color:#FFFFFF;font-size:14px">17.3</div>
<div class="v" style="left:810.52px;top:429px;color:#717171;font-size:14px">13.6</div>
<div class="seg" style="left:499px;top:448.6px;width:24.73px;height:29px;background:#FCC99D"></div>
<div class="seg" style="left:523.33px;top:448.6px;width:18.73px;height:29px;background:#E1A97F"></div>
<div class="seg" style="left:541.66px;top:448.6px;width:52.06px;height:29px;background:#C58C67"></div>
<div class="seg" style="left:593.31px;top:448.6px;width:79.05px;height:29px;background:#A5724D"></div>
<div class="seg" style="left:671.97px;top:448.6px;width:70.05px;height:29px;background:#683C1C"></div>
<div class="seg" style="left:741.62px;top:448.6px;width:54.66px;height:29px;background:#381105"></div>
<div class="seg" style="left:797.47px;top:448.6px;width:35.13px;height:29px;background:#D9D9D9"></div>
<div class="v" style="left:511.16px;top:464px;color:#717171;font-size:14px">7.3</div>
<div class="v" style="left:535.4px;top:464px;color:#717171;font-size:14px">5.5</div>
<div class="v" style="left:567.49px;top:468px;color:#FFFFFF;font-size:15.5px">15.5</div>
<div class="v" style="left:632.64px;top:466px;color:#FFFFFF;font-size:15.5px">23.6</div>
<div class="v" style="left:706.79px;top:464px;color:#FFFFFF;font-size:14px">20.9</div>
<div class="v" style="left:768.95px;top:464px;color:#FFFFFF;font-size:14px">16.4</div>
<div class="v" style="left:815.04px;top:464px;color:#717171;font-size:14px">10.9</div>
<div class="box"></div>
<div class="boxt">使っていない<br>カバンがある<br>計</div>
<div class="tot" style="left:885px;top:107.5px;font-weight:bold;font-size:14.5px">68.5</div>
<div class="tot" style="left:885px;top:144.9px;font-weight:normal">60.0</div>
<div class="tot" style="left:885px;top:181px;font-weight:normal">49.1</div>
<div class="tot" style="left:885px;top:217.1px;font-weight:normal">56.4</div>
<div class="tot" style="left:885px;top:253.2px;font-weight:normal">57.3</div>
<div class="tot" style="left:885px;top:289.3px;font-weight:normal">65.5</div>
<div class="tot" style="left:885px;top:325.4px;font-weight:normal">66.4</div>
<div class="tot" style="left:885px;top:361.5px;font-weight:normal">72.7</div>
<div class="tot" style="left:885px;top:397.6px;font-weight:normal">82.7</div>
<div class="tot" style="left:885px;top:433.7px;font-weight:normal">86.4</div>
<div class="tot" style="left:885px;top:469.8px;font-weight:normal">89.1</div>
<div class="foot" style="left:321px;top:483px">※2%未満は非表示（%）</div>
<div class="foot" style="left:784px;top:483px">※2%未満は非表示（%）</div>
</body></html>
